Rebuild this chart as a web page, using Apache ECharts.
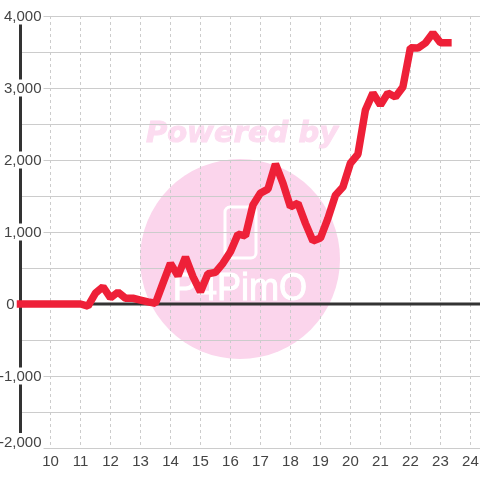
<!DOCTYPE html>
<html>
<head>
<meta charset="utf-8">
<style>
html, body { margin: 0; padding: 0; background: #fff; }
#chart { width: 480px; height: 480px; }
</style>
<script src="https://cdn.jsdelivr.net/npm/echarts@6/dist/echarts.min.js"></script>
</head>
<body>
<div id="chart"></div>
<script>
// quarter-hour readings, 9:00 to 23:15
var hours = [9, 9.25, 9.5, 9.75, 10, 10.25, 10.5, 10.75, 11, 11.25, 11.5, 11.75, 12, 12.25, 12.5, 12.75,
    13, 13.25, 13.5, 13.75, 14, 14.25, 14.5, 14.75, 15, 15.25, 15.5, 15.75, 16, 16.25, 16.5, 16.75,
    17, 17.25, 17.5, 17.75, 18, 18.25, 18.5, 18.75, 19, 19.25, 19.5, 19.75, 20, 20.25, 20.5, 20.75,
    21, 21.25, 21.5, 21.75, 22, 22.25, 22.5, 22.75, 23, 23.25];
var values = [0, 0, 0, 0, 0, 0, 0, 0, 0, -30, 150, 240, 85, 165, 80, 80,
    55, 30, 10, 290, 565, 390, 650, 380, 170, 420, 440, 565, 725, 970, 945, 1375,
    1540, 1595, 1945, 1680, 1350, 1400, 1120, 875, 915, 1190, 1510, 1625, 1955, 2080, 2695, 2930,
    2765, 2930, 2875, 3015, 3560, 3555, 3625, 3765, 3630, 3630];
var zeroLine = [[9, 0], [24.32, 0]];

var chart = echarts.init(document.getElementById('chart'));

var line = [];
for (var i = 0; i < hours.length; i++) {
    line.push([hours[i], values[i]]);
}

chart.setOption({
    animation: false,
    backgroundColor: '#fff',
    textStyle: { fontFamily: 'Liberation Sans' },
    grid: { left: 20.5, right: 0, top: 16, bottom: 32, outerBoundsMode: 'none' },
    graphic: [
        { type: 'circle', z: -10, shape: { cx: 240, cy: 259, r: 100 }, style: { fill: '#fbd5ec' } },
        { type: 'rect', z: -9, shape: { x: 225, y: 207, width: 31, height: 51, r: 5 }, style: { fill: 'none', stroke: '#fff', lineWidth: 3 } },
        { type: 'text', z: -9, x: 240, y: 290, scaleX: 0.95, style: { text: 'P4PimO', fill: '#fff', stroke: '#fff', lineWidth: 1, font: '38px "Liberation Sans"', textAlign: 'center', textVerticalAlign: 'middle' } },
        { type: 'text', z: -9, x: 242, y: 134, style: { text: 'Powered by', fill: '#fcdcf0', stroke: '#fcdcf0', lineWidth: 1, font: 'italic bold 29px "DejaVu Sans"', textAlign: 'center', textVerticalAlign: 'middle' } }
    ],
    xAxis: {
        type: 'value',
        min: 9,
        max: 24.32,
        interval: 1,
        axisLine: { show: false },
        axisTick: { show: false },
        splitLine: { lineStyle: { color: '#ccc', type: [3, 3], width: 1 } },
        axisLabel: {
            margin: 6,
            color: '#444',
            fontSize: 15,
            showMaxLabel: false,
            formatter: function (v) { return v === 9 ? '' : String(v); }
        }
    },
    yAxis: {
        type: 'value',
        min: -2000,
        max: 4000,
        interval: 500,
        axisLine: { show: true, onZero: false, lineStyle: { color: '#333', width: 3 } },
        axisTick: { show: false },
        splitLine: { lineStyle: { color: '#ccc', width: 1 } },
        axisLabel: {
            margin: -23,
            fontSize: 15,
            color: '#444',
            verticalAlignMinLabel: 'bottom',
            formatter: function (v) {
                if (v % 1000 !== 0) return '';
                if (v === 0) return '{z|0}';
                return '{a|' + v.toLocaleString('en-US') + '}';
            },
            rich: {
                a: { fontSize: 15, color: '#444', backgroundColor: '#fff', padding: [2, 2, 0, 0], lineHeight: 13 },
                z: { fontSize: 15, color: '#444', padding: [2, 29, 0, 0], lineHeight: 13 }
            }
        }
    },
    series: [
        {
            type: 'line',
            data: zeroLine,
            symbol: 'none',
            silent: true,
            clip: false,
            z: 3,
            lineStyle: { color: '#333', width: 3 }
        },
        {
            type: 'line',
            data: line,
            symbol: 'none',
            clip: false,
            z: 4,
            lineStyle: { color: '#ee2038', width: 7.5, cap: 'square', join: 'bevel' }
        }
    ]
});
</script>
</body>
</html>
